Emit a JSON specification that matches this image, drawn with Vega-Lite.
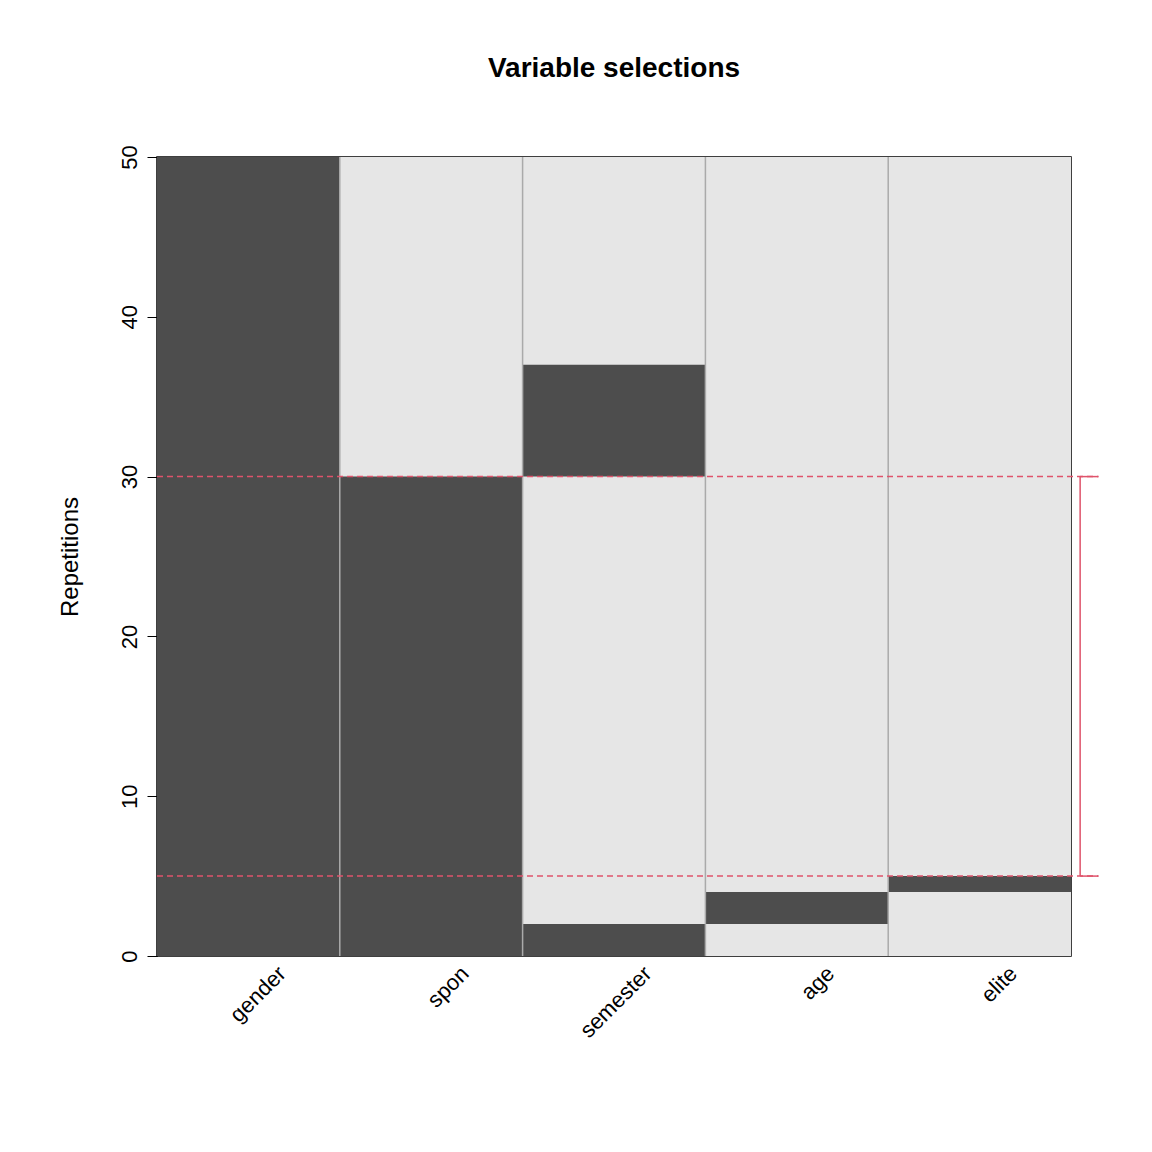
{
  "$schema": "https://vega.github.io/schema/vega-lite/v6.json",
  "width": 914,
  "height": 799,
  "autosize": "none",
  "padding": {"left": 157, "top": 157, "right": 81, "bottom": 196},
  "title": {"text": "Variable selections", "fontSize": 28, "font": "Liberation Sans", "fontWeight": "bold", "offset": 62, "color": "black"},
  "config": {"view": {"stroke": "black", "strokeWidth": 1.5}, "font": "Liberation Sans"},
  "scales": {},
  "datasets": {
    "cols": [
      {"var": "gender", "i": 0, "i2": 1, "c": 0.5},
      {"var": "spon", "i": 1, "i2": 2, "c": 1.5},
      {"var": "semester", "i": 2, "i2": 3, "c": 2.5},
      {"var": "age", "i": 3, "i2": 4, "c": 3.5},
      {"var": "elite", "i": 4, "i2": 5, "c": 4.5}
    ],
    "segs": [
      {"i": 0, "i2": 1, "lo": 0, "hi": 50},
      {"i": 1, "i2": 2, "lo": 0, "hi": 30},
      {"i": 2, "i2": 3, "lo": 0, "hi": 2},
      {"i": 2, "i2": 3, "lo": 30, "hi": 37},
      {"i": 3, "i2": 4, "lo": 2, "hi": 4},
      {"i": 4, "i2": 5, "lo": 4, "hi": 5}
    ],
    "seps": [{"x": 1}, {"x": 2}, {"x": 3}, {"x": 4}],
    "hl": [{"y": 5}, {"y": 30}]
  },
  "layer": [
    {
      "data": {"name": "cols"},
      "mark": {"type": "rect", "color": "#e6e6e6"},
      "encoding": {
        "x": {"field": "i", "type": "quantitative", "scale": {"domain": [0, 5], "nice": false}, "axis": null},
        "x2": {"field": "i2"},
        "y": {"datum": 0, "type": "quantitative", "scale": {"domain": [0, 50], "nice": false},
          "axis": {"title": "Repetitions", "titleFontSize": 24, "titleFontWeight": "normal", "titlePadding": 36, "titleColor": "black",
            "values": [0, 10, 20, 30, 40, 50], "labelAngle": 270, "labelAlign": "center", "labelBaseline": "bottom", "labelFontSize": 22, "labelColor": "black",
            "tickSize": 10, "tickColor": "black", "domainColor": "black", "labelPadding": 6, "grid": false}},
        "y2": {"datum": 50}
      }
    },
    {
      "data": {"name": "segs"},
      "mark": {"type": "rect", "color": "#4d4d4d"},
      "encoding": {
        "x": {"field": "i", "type": "quantitative"},
        "x2": {"field": "i2"},
        "y": {"field": "lo", "type": "quantitative"},
        "y2": {"field": "hi"}
      }
    },
    {
      "data": {"name": "seps"},
      "mark": {"type": "rule", "color": "#aaaaaa", "strokeWidth": 1.5},
      "encoding": {"x": {"field": "x", "type": "quantitative"}}
    },
    {
      "data": {"name": "hl"},
      "mark": {"type": "rule", "color": "#DF536B", "strokeDash": [6, 4], "strokeWidth": 1.5, "clip": false},
      "encoding": {"x": {"datum": 0}, "x2": {"datum": 5.15}, "y": {"field": "y", "type": "quantitative"}}
    },
    {
      "data": {"name": "hl"},
      "mark": {"type": "rule", "color": "#DF536B", "strokeWidth": 1.5, "clip": false},
      "encoding": {"x": {"datum": 5.05}, "x2": {"datum": 5.15}, "y": {"field": "y", "type": "quantitative"}}
    },
    {
      "data": {"values": [{"a": 5, "b": 30}]},
      "mark": {"type": "rule", "color": "#DF536B", "strokeWidth": 1.5, "clip": false},
      "encoding": {"x": {"datum": 5.05}, "y": {"field": "a", "type": "quantitative"}, "y2": {"field": "b"}}
    },
    {
      "data": {"name": "cols"},
      "mark": {"type": "text", "angle": 315, "align": "right", "baseline": "middle", "fontSize": 22, "dy": 34, "dx": 14, "clip": false},
      "encoding": {"x": {"field": "c", "type": "quantitative"}, "y": {"datum": 0}, "text": {"field": "var"}}
    }
  ]
}
